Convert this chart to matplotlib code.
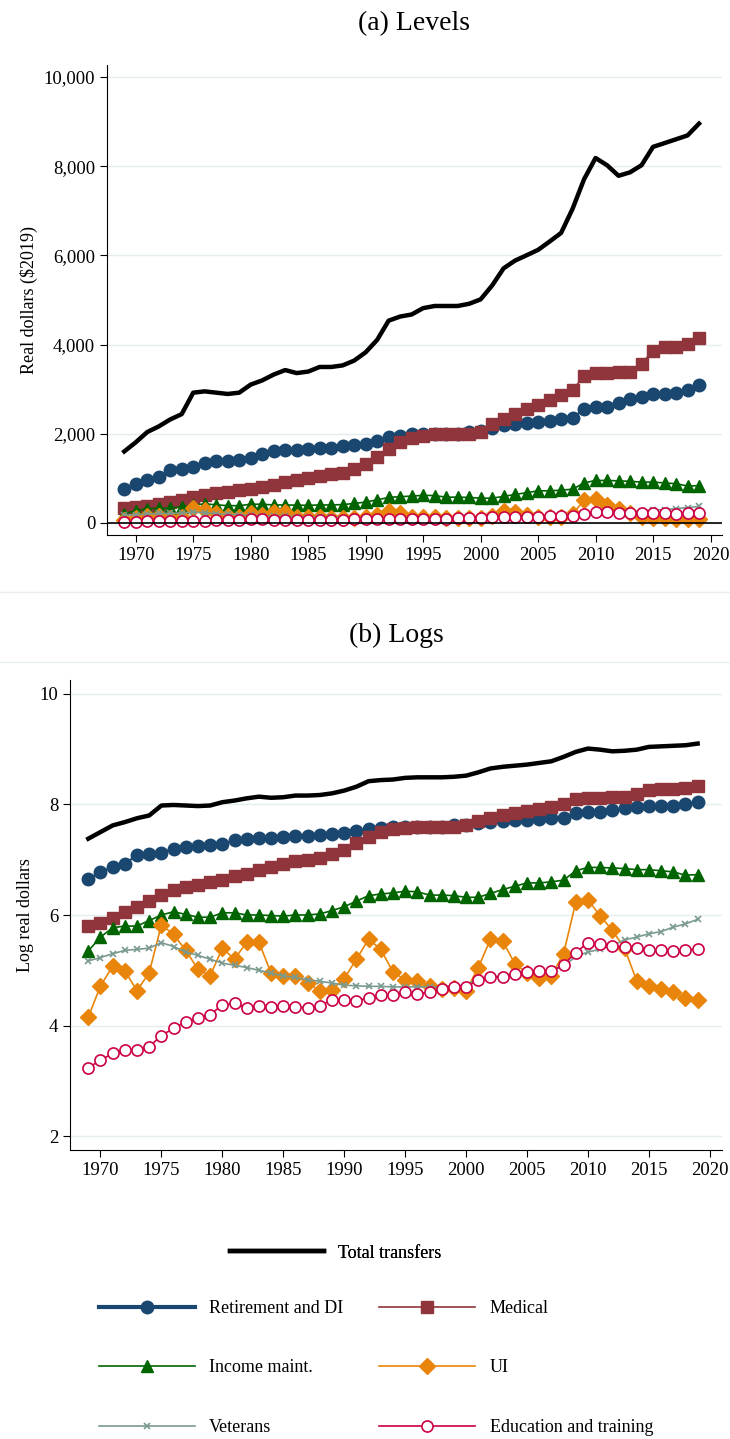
import numpy as np
import matplotlib
matplotlib.use('Agg')
import matplotlib.pyplot as plt
from matplotlib.ticker import FuncFormatter

plt.rcParams['font.family'] = ['Liberation Serif', 'DejaVu Serif']
plt.rcParams['font.size'] = 13

years = np.arange(1969, 2020)

# log real dollars
total = [7.38, 7.5, 7.62, 7.68, 7.75, 7.8, 7.98, 7.99, 7.98, 7.97, 7.98, 8.04, 8.07, 8.11, 8.14, 8.12, 8.13,
         8.16, 8.16, 8.17, 8.2, 8.25, 8.32, 8.42, 8.44, 8.45, 8.48, 8.49, 8.49, 8.49, 8.5, 8.52, 8.58, 8.65,
         8.68, 8.7, 8.72, 8.75, 8.78, 8.86, 8.95, 9.01, 8.99, 8.96, 8.97, 8.99, 9.04, 9.05, 9.06, 9.07, 9.1]
retire = [6.65, 6.77, 6.87, 6.93, 7.08, 7.1, 7.13, 7.2, 7.23, 7.24, 7.26, 7.28, 7.35, 7.38, 7.4, 7.4, 7.41,
          7.43, 7.43, 7.45, 7.46, 7.48, 7.52, 7.56, 7.58, 7.6, 7.6, 7.6, 7.6, 7.6, 7.62, 7.63, 7.66, 7.69,
          7.7, 7.71, 7.72, 7.73, 7.75, 7.76, 7.85, 7.86, 7.86, 7.9, 7.93, 7.95, 7.97, 7.97, 7.98, 8.0, 8.04]
medical = [5.8, 5.86, 5.95, 6.05, 6.15, 6.25, 6.36, 6.45, 6.5, 6.55, 6.6, 6.63, 6.7, 6.75, 6.82, 6.87, 6.92,
           6.97, 7.0, 7.03, 7.1, 7.18, 7.3, 7.41, 7.5, 7.55, 7.58, 7.6, 7.6, 7.6, 7.6, 7.62, 7.7, 7.75, 7.8,
           7.85, 7.88, 7.92, 7.96, 8.0, 8.1, 8.12, 8.12, 8.13, 8.13, 8.18, 8.26, 8.28, 8.28, 8.3, 8.33]
income = [5.35, 5.6, 5.77, 5.8, 5.8, 5.9, 6.0, 6.06, 6.01, 5.96, 5.96, 6.04, 6.04, 6.0, 6.0, 5.99, 5.98, 6.0,
          6.0, 6.02, 6.08, 6.15, 6.25, 6.35, 6.38, 6.4, 6.43, 6.42, 6.36, 6.36, 6.35, 6.32, 6.32, 6.39, 6.46,
          6.52, 6.58, 6.58, 6.6, 6.63, 6.8, 6.86, 6.86, 6.85, 6.84, 6.82, 6.82, 6.8, 6.78, 6.72, 6.73]
ui = [4.15, 4.72, 5.07, 4.99, 4.63, 4.96, 5.82, 5.65, 5.36, 5.02, 4.9, 5.4, 5.2, 5.51, 5.51, 4.95, 4.9, 4.9,
      4.77, 4.63, 4.65, 4.85, 5.2, 5.56, 5.38, 4.97, 4.83, 4.81, 4.72, 4.67, 4.68, 4.63, 5.05, 5.56, 5.53,
      5.12, 4.95, 4.86, 4.9, 5.3, 6.23, 6.27, 5.99, 5.72, 5.4, 4.81, 4.71, 4.66, 4.6, 4.5, 4.46]
veterans = [5.17, 5.23, 5.3, 5.36, 5.38, 5.4, 5.5, 5.43, 5.33, 5.27, 5.2, 5.13, 5.09, 5.05, 5.0, 4.95, 4.9,
            4.87, 4.83, 4.8, 4.77, 4.73, 4.72, 4.71, 4.71, 4.7, 4.7, 4.7, 4.7, 4.7, 4.72, 4.73, 4.85, 4.88,
            4.9, 4.94, 4.97, 4.98, 5.0, 5.07, 5.25, 5.33, 5.38, 5.45, 5.55, 5.6, 5.66, 5.7, 5.78, 5.84, 5.92]
educ = [3.24, 3.37, 3.5, 3.55, 3.55, 3.62, 3.82, 3.95, 4.07, 4.14, 4.2, 4.37, 4.4, 4.32, 4.35, 4.34, 4.35,
        4.34, 4.32, 4.35, 4.47, 4.46, 4.45, 4.5, 4.55, 4.55, 4.6, 4.58, 4.6, 4.67, 4.7, 4.7, 4.82, 4.88,
        4.88, 4.93, 4.97, 4.98, 4.98, 5.1, 5.32, 5.5, 5.48, 5.44, 5.42, 5.4, 5.37, 5.36, 5.35, 5.37, 5.38]

series = [
    ("Retirement and DI", retire, dict(color='#1a476f', marker='o', ms=9, lw=1.5, mfc='#1a476f')),
    ("Medical", medical, dict(color='#90353b', marker='s', ms=8, lw=1.2, mfc='#90353b')),
    ("Income maint.", income, dict(color='#006400', marker='^', ms=9, lw=1.2, mfc='#006400')),
    ("UI", ui, dict(color='#e8850a', marker='D', ms=8, lw=1.2, mfc='#e8850a')),
    ("Veterans", veterans, dict(color='#7a9a90', marker='x', ms=5, lw=1.2, mew=1.2)),
    ("Education and training", educ, dict(color='#cc0044', marker='o', ms=8, lw=1.2, mfc='white', mew=1.2)),
]

fig = plt.figure(figsize=(7.3, 14.39), dpi=100)
W, H = 730, 1439
ax1 = fig.add_axes([107 / W, 1 - 535 / H, 615 / W, 470 / H])
ax2 = fig.add_axes([70 / W, 1 - 1150 / H, 652 / W, 470 / H])

grid_c = '#e4eeef'

# (a) levels
ax1.plot(years, np.exp(total), color='black', lw=3.2, zorder=5)
for name, vals, kw in series:
    ax1.plot(years, np.exp(vals), zorder=4, **kw)
ax1.axhline(0, color='black', lw=1.2, zorder=6)
ax1.set_ylim(-270, 10270)
ax1.set_yticks(np.arange(0, 10001, 2000))
ax1.yaxis.set_major_formatter(FuncFormatter(lambda v, p: f"{int(v):,}"))
ax1.set_ylabel("Real dollars ($2019)")
ax1.set_title("(a) Levels", fontsize=20, pad=25)

# (b) logs
ax2.plot(years, total, color='black', lw=3.2, zorder=5)
for name, vals, kw in series:
    ax2.plot(years, vals, zorder=4, **kw)
ax2.set_ylim(1.75, 10.25)
ax2.set_yticks([2, 4, 6, 8, 10])
ax2.set_ylabel("Log real dollars")
ax2.set_title("(b) Logs", fontsize=20, pad=27)

for ax in (ax1, ax2):
    ax.set_xlim(1967.5, 2021)
    ax.set_xticks(np.arange(1970, 2021, 5))
    ax.grid(axis='y', color=grid_c, lw=1)
    ax.set_axisbelow(True)
    for s in ('top', 'right'):
        ax.spines[s].set_visible(False)
    ax.tick_params(direction='out', length=5, labelsize=13.5)

# separator lines between panels
fig.add_artist(plt.Line2D([0, 1], [1 - 592 / H, 1 - 592 / H], color='#e8eef0', lw=1))
fig.add_artist(plt.Line2D([0, 1], [1 - 662 / H, 1 - 662 / H], color='#e8eef0', lw=1))

# legends
h_tot, = ax2.plot([], [], color='black', lw=3.2)
leg1 = fig.legend([h_tot], ["Total transfers"], loc='center', bbox_to_anchor=(0.46, 1 - 1253 / H),
                  frameon=False, fontsize=13, handlelength=5.2)
handles = {}
for name, vals, kw in series:
    k = dict(kw)
    if name == "Retirement and DI":
        k['lw'] = 3
    h, = ax2.plot([], [], **k)
    handles[name] = h
order = ["Retirement and DI", "Income maint.", "Veterans", "Medical", "UI", "Education and training"]
fig.legend([handles[n] for n in order], order, loc='center', ncol=2, bbox_to_anchor=(0.515, 1 - 1368 / H),
           frameon=False, fontsize=13, handlelength=5.3, labelspacing=2.35, columnspacing=2.0, numpoints=1)
fig.add_artist(leg1)

fig.savefig('out.png', dpi=100)
